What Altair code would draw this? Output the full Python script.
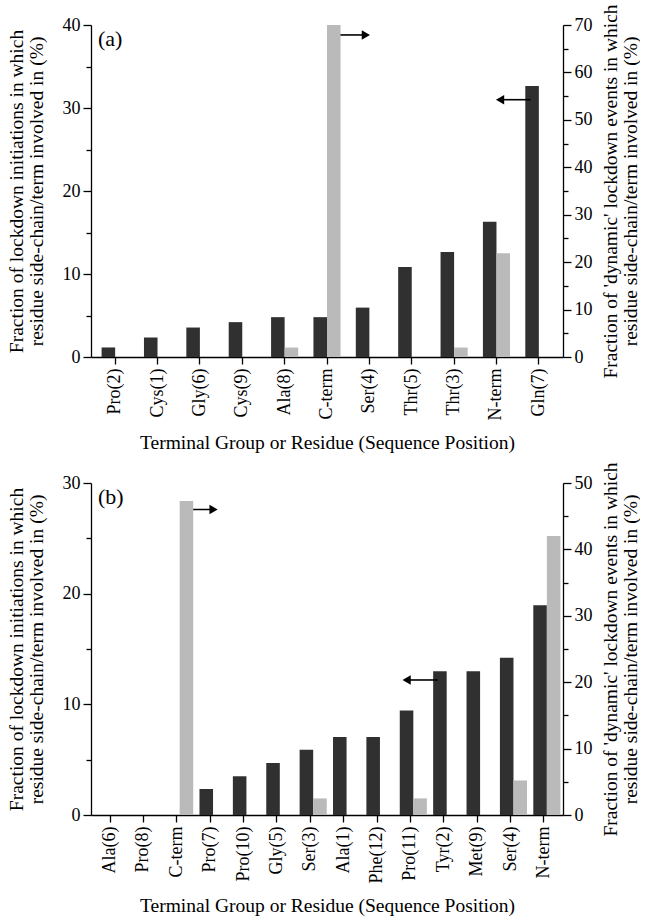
import altair as alt
import pandas as pd

# ---------------- data ----------------
cats_a = ["Pro(2)", "Cys(1)", "Gly(6)", "Cys(9)", "Ala(8)", "C-term",
          "Ser(4)", "Thr(5)", "Thr(3)", "N-term", "Gln(7)"]
init_a = [1.15, 2.35, 3.55, 4.2, 4.8, 4.8, 5.95, 10.85, 12.65, 16.3, 32.65]
dyn_a = [0, 0, 0, 0, 2.0, 70.0, 0, 0, 2.0, 21.9, 0]

cats_b = ["Ala(6)", "Pro(8)", "C-term", "Pro(7)", "Pro(10)", "Gly(5)", "Ser(3)",
          "Ala(1)", "Phe(12)", "Pro(11)", "Tyr(2)", "Met(9)", "Ser(4)", "N-term"]
init_b = [0, 0, 0, 2.35, 3.5, 4.7, 5.9, 7.05, 7.05, 9.45, 13.0, 13.0, 14.2, 18.95]
dyn_b = [0, 0, 47.3, 0, 0, 0, 2.5, 0, 0, 2.5, 0, 0, 5.2, 42.0]

# arrows: (from category, to category, left-axis value, direction)
arrows_a = [("C-term", "Ser(4)", 38.8, "right"), ("Gln(7)", "N-term", 31.0, "left")]
arrows_b = [("C-term", "Pro(7)", 27.6, "right"), ("Tyr(2)", "Pro(11)", 12.2, "left")]

DARK = "#303030"
GREY = "#bababa"
FONT = "Liberation Serif"

LEFT_TITLE = ["Fraction of lockdown initiations in which",
              "residue side-chain/term involved in (%)"]
RIGHT_TITLE = ["Fraction of 'dynamic' lockdown events in which",
               "residue side-chain/term involved in (%)"]
X_TITLE = "Terminal Group or Residue (Sequence Position)"


def yaxis(vmax, orient, title):
    kw = {}
    if orient == "right":
        kw["titleAngle"] = 270
        kw["titlePadding"] = 8
    else:
        kw["titlePadding"] = 16
    return alt.Axis(
        orient=orient,
        values=list(range(0, vmax + 1, 5)),
        labelExpr="datum.value % 10 === 0 ? datum.label : ''",
        tickSize={"condition": {"test": "datum.value % 10 !== 0", "value": 5}, "value": 8},
        title=title,
        grid=False,
        labelPadding=3,
        titleLineHeight=20,
        **kw,
    )


def panel(cats, init, dyn, lmax, rmax, tag, arrows, offs):
    df = pd.DataFrame({"cat": cats, "init": init, "dyn": dyn})
    xscale = alt.Scale(domain=cats, paddingInner=0.36, paddingOuter=0.25)
    oscale = alt.Scale(domain=["init", "dyn"], paddingInner=0, paddingOuter=0)
    lscale = alt.Scale(domain=[0, lmax], nice=False, zero=True)
    rscale = alt.Scale(domain=[0, rmax], nice=False, zero=True)

    xaxis = alt.Axis(title=X_TITLE, labelAngle=-90, tickSize=7, labelPadding=4,
                     titlePadding=14, labelAlign="right", labelBaseline="middle")
    laxis = yaxis(lmax, "left", LEFT_TITLE)
    raxis = yaxis(rmax, "right", RIGHT_TITLE)

    dark = alt.Chart(df).transform_calculate(s="'init'").mark_bar(color=DARK).encode(
        x=alt.X("cat:N", scale=xscale, axis=xaxis),
        xOffset=alt.XOffset("s:N", scale=oscale),
        y=alt.Y("init:Q", scale=lscale, axis=laxis),
    )

    layers = [dark]
    for (c1, c2, yv, d), (o1, o2) in zip(arrows, offs):
        adf = pd.DataFrame({"c1": [c1], "c2": [c2], "v": [yv]})
        shaft = alt.Chart(adf).mark_rule(color="black", strokeWidth=1.6,
                                         xOffset=o1, x2Offset=o2 + (-5 if d == "right" else 5)).encode(
            x=alt.X("c1:N", scale=xscale, axis=xaxis),
            x2="c2:N",
            y=alt.Y("v:Q", scale=lscale, axis=laxis),
        )
        head = alt.Chart(adf).mark_point(
            shape="triangle-" + d, filled=True, color="black", opacity=1, size=90,
            strokeWidth=0,
            xOffset=o2 + (-5 if d == "right" else 5)).encode(
            x=alt.X("c2:N", scale=xscale, axis=xaxis),
            y=alt.Y("v:Q", scale=lscale, axis=laxis),
        )
        layers += [shaft, head]

    label = alt.Chart(pd.DataFrame({"t": [tag]})).mark_text(
        align="left", baseline="middle", fontSize=22, font=FONT, color="black"
    ).encode(text="t:N", x=alt.value(7), y=alt.value(14))
    layers.append(label)

    grey = alt.Chart(df).transform_calculate(s="'dyn'").mark_bar(color=GREY).encode(
        x=alt.X("cat:N", scale=xscale, axis=xaxis),
        xOffset=alt.XOffset("s:N", scale=oscale),
        y=alt.Y("dyn:Q", scale=rscale, axis=raxis),
    )

    return alt.layer(alt.layer(*layers), grey).resolve_scale(y="independent").properties(
        width=472, height=332)


pa = panel(cats_a, init_a, dyn_a, 40, 70, "(a)", arrows_a, [(8.7, 1.5), (-8.3, -1.4)])
pb = panel(cats_b, init_b, dyn_b, 30, 50, "(b)", arrows_b, [(4.7, 8.4), (-6.0, -8.8)])

chart = alt.vconcat(pa, pb, spacing=8).properties(
    padding={"left": 6, "top": 3, "right": 0, "bottom": 0}
).configure(font=FONT).configure_view(stroke=None).configure_axis(
    labelFont=FONT, titleFont=FONT, labelFontSize=18, titleFontSize=19.5,
    titleFontWeight="normal", labelColor="black", titleColor="black",
    domainColor="black", tickColor="black", domainWidth=1.3, tickWidth=1.3,
)

chart.save("out.html", embed_options={"renderer": "svg", "actions": False})
